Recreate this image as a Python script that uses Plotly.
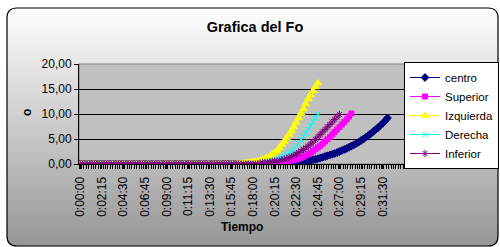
import plotly.graph_objects as go

# ---------------- data ----------------
tick_labels = ["0:00:00", "0:02:15", "0:04:30", "0:06:45", "0:09:00", "0:11:15",
               "0:13:30", "0:15:45", "0:18:00", "0:20:15", "0:22:30", "0:24:45",
               "0:27:00", "0:29:15", "0:31:30"]
steps_per_label = 9  # one reading every 15 s, a label every 2:15

centro = [0.0] * 85 + [0.05, 0.1, 0.15, 0.2, 0.25, 0.3, 0.35, 0.4, 0.5, 0.55,
                       0.65, 0.75, 0.85, 0.95, 1.05, 1.2, 1.35, 1.5, 1.65, 1.8,
                       1.95, 2.1, 2.3, 2.5, 2.7, 2.9, 3.1, 3.35, 3.6, 3.85,
                       4.1, 4.4, 4.7, 5.0, 5.35, 5.7, 6.05, 6.45, 6.85, 7.25,
                       7.7, 8.15, 8.65, 9.2]
superior = [0.0] * 80 + [0.1, 0.15, 0.2, 0.27, 0.35, 0.42, 0.5, 0.6, 0.7, 0.8,
                         0.9, 1.05, 1.25, 1.45, 1.7, 1.95, 2.25, 2.6, 2.95, 3.3,
                         3.65, 4.05, 4.5, 4.95, 5.4, 5.9, 6.4, 6.9, 7.4, 7.9,
                         8.4, 8.9, 9.5, 10.1]
izquierda = [0.0] * 65 + [0.05, 0.1, 0.15, 0.2, 0.25, 0.3, 0.38, 0.45, 0.52, 0.6,
                          0.7, 0.9, 1.1, 1.35, 1.6, 1.95, 2.3, 2.7, 3.2, 3.9,
                          4.5, 5.2, 5.9, 6.6, 7.4, 8.3, 9.2, 10.1, 11.0, 12.0,
                          13.0, 13.8, 14.6, 15.4, 16.2]
derecha = [0.0] * 75 + [0.15, 0.22, 0.3, 0.4, 0.5, 0.62, 0.75, 0.9, 1.1, 1.35,
                        1.6, 1.9, 2.25, 2.6, 3.0, 3.5, 4.1, 4.8, 5.5, 6.2,
                        6.9, 7.6, 8.4, 9.2, 10.0]
inferior = [0.0] * 75 + [0.2, 0.25, 0.3, 0.35, 0.4, 0.5, 0.55, 0.6, 0.7, 0.8,
                         0.95, 1.1, 1.3, 1.5, 1.7, 2.0, 2.3, 2.6, 2.9, 3.2,
                         3.6, 4.0, 4.4, 4.9, 5.4, 5.9, 6.4, 6.9, 7.4, 7.9,
                         8.4, 8.9, 9.4, 9.9]

y_ticks = [0, 5, 10, 15, 20]

series = [
    ("centro", centro, "#000080", "diamond", 6),
    ("Superior", superior, "#ff00ff", "square", 5),
    ("Izquierda", izquierda, "#ffff00", "triangle-up", 7),
    ("Derecha", derecha, "#00ffff", "x-thin-open", 6),
    ("Inferior", inferior, "#800080", "asterisk-open", 6),
]

# ---------------- geometry (pixels) ----------------
W, H = 500, 247
PL, PR, PT, PB = 79, 405, 64, 164  # plot area


def px_x(p):
    return (p - PL) / (PR - PL)


def px_y(p):
    return (PB - p) / (PB - PT)


FONT = "Liberation Sans, Arial, sans-serif"

fig = go.Figure()
for name, vals, color, sym, size in series:
    fig.add_trace(go.Scatter(
        x=list(range(len(vals))), y=vals, name=name, mode="lines+markers",
        line=dict(color=color, width=1),
        marker=dict(symbol=sym, size=size, color=color,
                    line=dict(color=color, width=1)),
    ))

# ---------------- background: rounded gradient chart area ----------------
shapes = []
bx0, bx1, by0, by1, rad = 7, 498, 8, 246, 10
step = 2
y = by0
while y < by1:
    ya, yb = y, min(y + step, by1)
    ym = (ya + yb) / 2
    inset = 0
    if ym < by0 + rad:
        d = by0 + rad - ym
        inset = rad - (rad ** 2 - d ** 2) ** 0.5
    elif ym > by1 - rad:
        d = ym - (by1 - rad)
        inset = rad - (rad ** 2 - d ** 2) ** 0.5
    v = int(round(255 - 0.44 * (ym - by0)))
    v = max(0, min(255, v))
    shapes.append(dict(type="rect", xref="paper", yref="paper", layer="below",
                       x0=px_x(bx0 + inset), x1=px_x(bx1 - inset),
                       y0=px_y(yb + 0.3), y1=px_y(ya),
                       fillcolor=f"rgb({v},{v},{v})", line=dict(width=0)))
    y += step


def P(x, y):
    return f"{px_x(x):.5f},{px_y(y):.5f}"


path = (f"M {P(bx0 + rad, by0)} L {P(bx1 - rad, by0)} Q {P(bx1, by0)} {P(bx1, by0 + rad)} "
        f"L {P(bx1, by1 - rad)} Q {P(bx1, by1)} {P(bx1 - rad, by1)} "
        f"L {P(bx0 + rad, by1)} Q {P(bx0, by1)} {P(bx0, by1 - rad)} "
        f"L {P(bx0, by0 + rad)} Q {P(bx0, by0)} {P(bx0 + rad, by0)} Z")
shapes.append(dict(type="path", xref="paper", yref="paper", layer="below",
                   path=path, line=dict(color="#000000", width=1.2)))
# plot area
shapes.append(dict(type="rect", xref="paper", yref="paper", layer="below",
                   x0=0, x1=1, y0=0, y1=1, fillcolor="#c0c0c0",
                   line=dict(color="#808080", width=1)))

n_labels = len(tick_labels)
fig.update_layout(
    width=W, height=H, autosize=False,
    margin=dict(l=PL, r=W - PR, t=PT, b=H - PB, pad=0, autoexpand=False),
    paper_bgcolor="#ffffff", plot_bgcolor="#c0c0c0",
    separators=",.",
    font=dict(family=FONT, size=12, color="#000000"),
    shapes=shapes,
    title=dict(text="<b>Grafica del Fo</b>", xref="container", yref="container",
               x=0.51, xanchor="center", y=1 - 27 / H, yanchor="middle",
               font=dict(family=FONT, size=14.5, color="#000000"), automargin=False),
    xaxis=dict(range=[-0.5, 135.3], tickmode="array", automargin=False,
               tickvals=[k * steps_per_label for k in range(n_labels)],
               ticktext=tick_labels, tickangle=-90, ticklabelstandoff=3,
               ticks="outside", ticklen=4, tickcolor="#000000",
               showline=True, linecolor="#000000", linewidth=1,
               showgrid=False, zeroline=False,
               tickfont=dict(family=FONT, size=12, color="#000000"),
               minor=dict(tickmode="array",
                          tickvals=[i + 0.5 for i in range(-1, 136)],
                          ticks="outside", ticklen=4, tickcolor="#000000",
                          showgrid=False)),
    yaxis=dict(range=[0, 20], tickmode="array", tickvals=y_ticks, automargin=False,
               tickformat=".2f", ticks="outside", ticklen=4, tickcolor="#000000",
               showline=True, linecolor="#000000", linewidth=1,
               showgrid=True, gridcolor="#000000", gridwidth=1, zeroline=False,
               tickfont=dict(family=FONT, size=12, color="#000000")),
    legend=dict(xref="container", yref="container", x=499 / W, xanchor="right",
                y=1 - 62 / H, yanchor="top", bgcolor="#ffffff",
                bordercolor="#000000", borderwidth=1, itemwidth=30,
                font=dict(family=FONT, size=11.5, color="#000000"),
                tracegroupgap=0),
    annotations=[
        dict(text="<b>o</b>", xref="paper", yref="paper", x=px_x(27), y=px_y(113),
             showarrow=False, textangle=-90, xanchor="center", yanchor="middle",
             font=dict(family=FONT, size=12, color="#000000")),
        dict(text="<b>Tiempo</b>", xref="paper", yref="paper", x=px_x(242), y=px_y(227),
             showarrow=False, xanchor="center", yanchor="middle",
             font=dict(family=FONT, size=12, color="#000000")),
    ],
)

fig.write_html("out.html", config={"displayModeBar": False},
               post_script="document.body.style.margin='0';document.body.style.padding='0';")
